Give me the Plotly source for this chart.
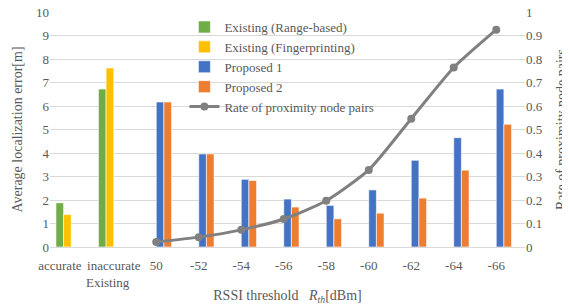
import plotly.graph_objects as go

categories = ["accurate", "inaccurate", "50", "-52", "-54", "-56", "-58", "-60", "-62", "-64", "-66"]
tick_labels = ["accurate" + "&nbsp;" * 7, "inaccurate", "50", "-52", "-54", "-56", "-58", "-60", "-62", "-64", "-66"]
existing_range = [1.88, 6.72, None, None, None, None, None, None, None, None, None]
existing_fp = [1.38, 7.62, None, None, None, None, None, None, None, None, None]
proposed1 = [None, None, 6.17, 3.96, 2.88, 2.04, 1.77, 2.43, 3.69, 4.65, 6.72]
proposed2 = [None, None, 6.17, 3.96, 2.83, 1.70, 1.20, 1.44, 2.08, 3.27, 5.22]
rate_x = ["50", "-52", "-54", "-56", "-58", "-60", "-62", "-64", "-66"]
rate = [0.021, 0.042, 0.073, 0.119, 0.197, 0.328, 0.546, 0.764, 0.925]

FONT = "Liberation Serif"
TXT = "#595959"

fig = go.Figure()
bar_specs = [
    ("Existing (Range-based)", existing_range, "#70AD47"),
    ("Existing (Fingerprinting)", existing_fp, "#FFC000"),
    ("Proposed 1", proposed1, "#4472C4"),
    ("Proposed 2", proposed2, "#ED7D31"),
]
for i, (name, vals, col) in enumerate(bar_specs):
    fig.add_trace(go.Bar(x=categories, y=vals, name=name, legendgroup=f"g{i}",
                         marker=dict(color=col, line=dict(color="white", width=0.6))))

fig.add_trace(go.Scatter(x=rate_x, y=rate, name="Rate of proximity node pairs", yaxis="y2",
                         legendgroup="g4", mode="lines+markers",
                         line=dict(color="#808080", width=3, shape="spline", smoothing=0.6),
                         marker=dict(color="#808080", size=8)))

# page body has an 8px margin, so the figure is sized/margined to land on the reference area
fig.update_layout(
    width=562, height=297,
    margin=dict(l=42, r=45, t=4, b=58, autoexpand=False),
    paper_bgcolor="white", plot_bgcolor="white",
    font=dict(family=FONT, size=13, color=TXT),
    barmode="group", bargap=0.28, bargroupgap=0,
    showlegend=True,
    legend=dict(x=0.283, y=1.0, xanchor="left", yanchor="top", bgcolor="rgba(0,0,0,0)",
                font=dict(family=FONT, size=13, color=TXT), tracegroupgap=7,
                traceorder="normal"),
    xaxis=dict(type="category", categoryorder="array", categoryarray=categories,
               tickmode="array", tickvals=categories, ticktext=tick_labels,
               showgrid=False, showline=True, linecolor="#d9d9d9", ticks="",
               tickangle=0, ticklabelstandoff=6,
               tickfont=dict(family=FONT, size=13, color=TXT),
               title=dict(text="RSSI threshold   <i>R</i><sub><i>th</i></sub>[dBm]",
                          font=dict(family=FONT, size=14, color=TXT), standoff=18)),
    yaxis=dict(range=[0, 10], dtick=1, showgrid=True, gridcolor="#d9d9d9", zeroline=False,
               showline=False, ticks="", ticklabeloverflow="allow",
               tickfont=dict(family=FONT, size=13, color=TXT),
               title=dict(text="Average localization error[m]",
                          font=dict(family=FONT, size=14, color=TXT), standoff=10)),
    yaxis2=dict(range=[0, 1], dtick=0.1, overlaying="y", side="right", showgrid=False,
                zeroline=False, showline=False, ticks="", ticklabeloverflow="allow",
                tickfont=dict(family=FONT, size=13, color=TXT),
                title=dict(text="Rate of proximity node pairs",
                           font=dict(family=FONT, size=14, color=TXT), standoff=14)),
)
fig.add_annotation(text="Existing", xref="paper", yref="paper", x=0.072, y=-0.15,
                   showarrow=False, yanchor="middle", font=dict(family=FONT, size=13, color=TXT))

fig.write_html("out.html")
